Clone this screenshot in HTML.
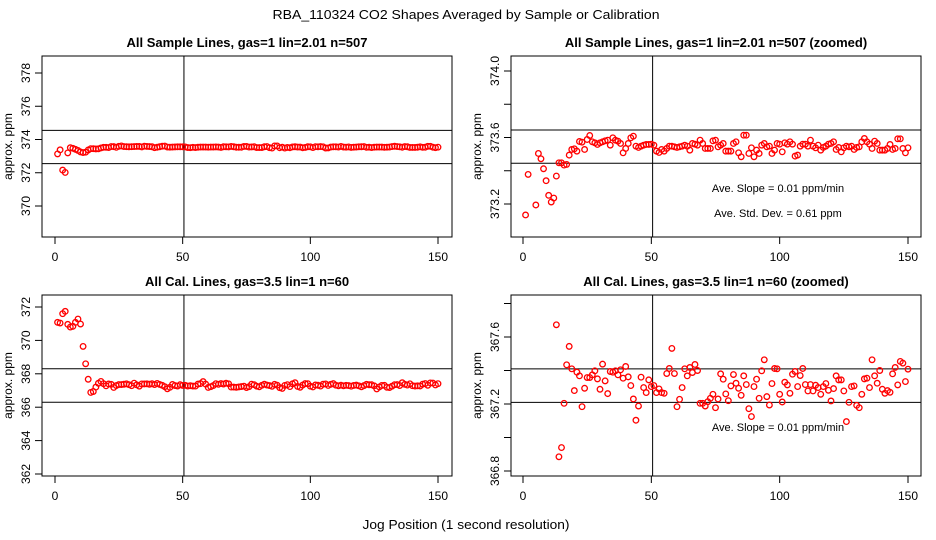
<!DOCTYPE html>
<html><head><meta charset="utf-8"><style>
html,body{margin:0;padding:0;background:#fff;}
svg{display:block;font-family:"Liberation Sans",Arial,sans-serif;}
</style></head><body>
<svg id="chart" width="936" height="540" viewBox="0 0 936 540" xmlns="http://www.w3.org/2000/svg">
<rect x="0" y="0" width="936" height="540" fill="#fff"/>
<text x="466" y="19" text-anchor="middle" font-size="13" textLength="387" lengthAdjust="spacingAndGlyphs">RBA_110324  CO2 Shapes Averaged by Sample or Calibration</text>
<text x="466" y="529" text-anchor="middle" font-size="13" textLength="207" lengthAdjust="spacingAndGlyphs">Jog Position (1 second resolution)</text>
<g id="panels"></g>
</svg>
<script>
// Sample series (positions 1..150), ppm
const sampleValues = [373.134,373.378,372.16,372.02,373.194,373.504,373.472,373.412,373.340,373.252,
373.212,373.236,373.368,373.448,373.448,373.434,373.438,373.494,373.528,373.532,
373.518,373.576,373.572,373.528,373.588,373.612,373.574,373.568,373.558,373.568,
373.574,373.580,373.584,373.554,373.598,373.584,373.578,373.564,373.508,373.534,
373.564,373.598,373.608,373.548,373.540,373.548,373.554,373.558,373.558,373.560,
373.554,373.518,373.510,373.528,373.518,373.534,373.548,373.548,373.544,373.540,
373.544,373.548,373.554,373.548,373.524,373.564,373.560,373.554,373.584,373.564,
373.534,373.534,373.534,373.580,373.584,373.544,373.554,373.564,373.518,373.518,
373.518,373.564,373.574,373.508,373.484,373.614,373.614,373.504,373.538,373.484,
373.524,373.504,373.554,373.564,373.544,373.548,373.504,373.524,373.564,373.560,
373.514,373.568,373.560,373.574,373.560,373.488,373.494,373.548,373.560,373.560,
373.548,373.584,373.548,373.538,373.554,373.524,373.540,373.548,373.560,373.564,
373.574,373.528,373.540,373.514,373.538,373.548,373.544,373.548,373.528,373.540,
373.544,373.574,373.594,373.574,373.560,373.534,373.578,373.564,373.524,373.524,
373.524,373.534,373.558,373.528,373.534,373.592,373.592,373.534,373.508,373.538];
// Calibration series (positions 1..150), ppm
const calValues = [371.08,371.04,371.6,371.74,370.96,370.8,370.84,371.08,371.28,370.98,
369.64,368.6,367.673,366.885,366.94,367.204,367.434,367.544,367.41,367.28,
367.39,367.368,367.184,367.294,367.358,367.358,367.374,367.398,367.35,367.288,
367.438,367.338,367.262,367.394,367.39,367.398,367.374,367.404,367.354,367.424,
367.362,367.31,367.23,367.103,367.188,367.36,367.298,367.268,367.344,367.304,
367.31,367.268,367.29,367.268,367.264,367.382,367.412,367.532,367.382,367.184,
367.228,367.298,367.41,367.368,367.418,367.388,367.436,367.4,367.204,367.204,
367.188,367.214,367.234,367.258,367.178,367.23,367.38,367.348,367.26,367.22,
367.308,367.376,367.324,367.294,367.252,367.368,367.316,367.172,367.125,367.304,
367.348,367.234,367.398,367.464,367.244,367.194,367.322,367.412,367.41,367.258,
367.212,367.33,367.314,367.264,367.378,367.394,367.304,367.37,367.412,367.316,
367.278,367.316,367.278,367.312,367.298,367.258,367.304,367.322,367.282,367.218,
367.292,367.368,367.344,367.344,367.278,367.095,367.21,367.304,367.308,367.192,
367.178,367.258,367.35,367.354,367.298,367.464,367.368,367.324,367.4,367.288,
367.264,367.28,367.27,367.38,367.418,367.314,367.454,367.444,367.334,367.408];
const xTicks = [0, 50, 100, 150];
const ticksTL = [370, 372, 374, 376, 378];
const ticksTR = [373.2, 373.4, 373.6, 373.8, 374.0];
const labelsTR = ["373.2", "", "373.6", "", "374.0"];
const ticksBL = [362, 364, 366, 368, 370, 372];
const ticksBR = [366.8, 367.0, 367.2, 367.4, 367.6, 367.8];
const labelsBR = ["366.8", "", "367.2", "", "367.6", ""];
const refLinesTL = [374.55, 372.55];
const refLinesTR = [373.645, 373.445];
const refLinesBL = [368.3, 366.3];
const refLinesBR = [367.41, 367.21];
const vLineX = 50.5;

const NS = "http://www.w3.org/2000/svg";
const root = document.getElementById('panels');
function mk(tag, attrs, parent) {
  const e = document.createElementNS(NS, tag);
  for (const k in attrs) e.setAttribute(k, attrs[k]);
  (parent || root).appendChild(e);
  return e;
}

const panels = [
  {name:'sample-full', title:'All Sample Lines, gas=1 lin=2.01 n=507', data:sampleValues,
   box:[42,56,452,237], x0:55, x1:438, yA:[370,206], yB:[378,73], ticks:ticksTL, labels:ticksTL.map(String), refs:refLinesTL, notes:[]},
  {name:'sample-zoomed', title:'All Sample Lines, gas=1 lin=2.01 n=507 (zoomed)', data:sampleValues,
   box:[511,56,921,237], x0:523, x1:908, yA:[373.2,204], yB:[374.0,71], ticks:ticksTR, labels:labelsTR, refs:refLinesTR,
   notes:['Ave. Slope =  0.01  ppm/min','Ave. Std. Dev. =  0.61  ppm']},
  {name:'cal-full', title:'All Cal. Lines, gas=3.5 lin=1 n=60', data:calValues,
   box:[42,295,452,476], x0:55, x1:438, yA:[362,474], yB:[372,307], ticks:ticksBL, labels:ticksBL.map(String), refs:refLinesBL, notes:[]},
  {name:'cal-zoomed', title:'All Cal. Lines, gas=3.5 lin=1 n=60 (zoomed)', data:calValues,
   box:[511,295,921,476], x0:523, x1:908, yA:[366.8,471], yB:[367.6,337], ticks:ticksBR, labels:labelsBR, refs:refLinesBR,
   notes:['Ave. Slope =  0.01  ppm/min']}
];

panels.forEach((p, pi) => {
  const [L,T,R,B] = p.box;
  const xs = v => p.x0 + (v / 150) * (p.x1 - p.x0);
  const ys = v => p.yA[1] + (v - p.yA[0]) * (p.yB[1] - p.yA[1]) / (p.yB[0] - p.yA[0]);
  const g = mk('g', {});
  
  
  const cp = mk('clipPath', {id:'clip' + pi}, g);
  mk('rect', {x:L, y:T, width:R-L, height:B-T}, cp);

  const t = mk('text', {x:(L+R)/2, y:T-9, 'text-anchor':'middle', 'font-size':13, 'font-weight':'bold'}, g);
  
  
  t.textContent = p.title;

  // reference lines
  p.refs.forEach(v => {
    const l = mk('line', {x1:L, x2:R, y1:ys(v), y2:ys(v), stroke:'#000', 'stroke-width':1}, g);
    
    
  });
  const vl = mk('line', {x1:xs(vLineX), x2:xs(vLineX), y1:T, y2:B, stroke:'#000', 'stroke-width':1}, g);
  
  

  // points
  const pts = mk('g', {'clip-path':'url(#clip' + pi + ')'}, g);
  
  
  p.data.forEach((v, i) => {
    const c = mk('circle', {cx:xs(i+1), cy:ys(v), r:2.8, fill:'none', stroke:'#ff0000', 'stroke-width':1.3}, pts);
    
    
  });

  // box
  const bx = mk('rect', {x:L, y:T, width:R-L, height:B-T, fill:'none', stroke:'#000', 'stroke-width':1}, g);
  
  

  // x axis
  xTicks.forEach(v => {
    const tk = mk('line', {x1:xs(v), x2:xs(v), y1:B, y2:B+7, stroke:'#000'}, g);
    
    
    const tl = mk('text', {x:xs(v), y:B+24, 'text-anchor':'middle', 'font-size':12}, g);
    
    
    tl.textContent = String(v);
  });
  // y axis
  p.ticks.forEach((v, i) => {
    const y = ys(v);
    const tk = mk('line', {x1:L-7, x2:L, y1:y, y2:y, stroke:'#000'}, g);
    
    
    if (p.labels[i]) {
      const tl = mk('text', {x:L-12, y:y, 'text-anchor':'middle', 'font-size':12, transform:'rotate(-90 ' + (L-12) + ' ' + y + ')'}, g);
      
      
      tl.textContent = p.labels[i];
    }
  });
  const yt = mk('text', {x:L-30, y:(T+B)/2, 'text-anchor':'middle', 'font-size':12, transform:'rotate(-90 ' + (L-30) + ' ' + ((T+B)/2) + ')'}, g);
  
  
  yt.textContent = 'approx. ppm';

  // annotations
  p.notes.forEach((s, i) => {
    const n = mk('text', {x:778, y:(pi === 1 ? 192 : 431) + i*25, 'text-anchor':'middle', 'font-size':11}, g);
    
    
    n.textContent = s;
  });
});
</script>
</body></html>
